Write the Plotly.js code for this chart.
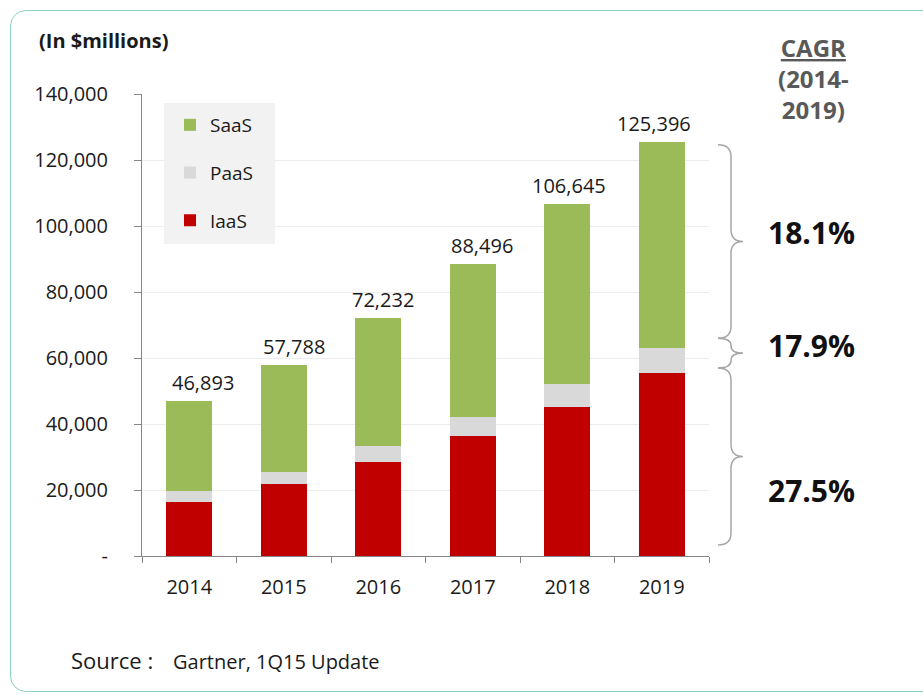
<!DOCTYPE html>
<html><head><meta charset="utf-8">
<script src="https://cdn.plot.ly/plotly-3.0.1.min.js"></script>
<style>
html,body{margin:0;padding:0;background:#fff;}
#wrap{position:relative;width:923px;height:695px;overflow:hidden;}
#chart{position:absolute;left:0;top:0;width:923px;height:695px;}
#frame{position:absolute;left:10px;top:10px;width:940px;height:680px;border:1.5px solid #8ad3c3;border-radius:16px;pointer-events:none;}
</style></head>
<body><div id="wrap"><div id="chart"></div><div id="frame"></div></div>
<script>
// ---- data ----
const years = ['2014','2015','2016','2017','2018','2019'];
const iaas = [16400,21700,28600,36300,45200,55500];
const paas = [3200,3800,4700,5700,6800,7600];
const saas = [27293,32288,38932,46496,54645,62296];
const totals = [46893,57788,72232,88496,106645,125396];
const totalLabels = ['46,893','57,788','72,232','88,496','106,645','125,396'];
const yTickVals = [0,20000,40000,60000,80000,100000,120000,140000];
const yTickText = ['-','20,000','40,000','60,000','80,000','100,000','120,000','140,000'];
const cagrLabels = ['18.1%','17.9%','27.5%'];
const braceRanges = [[124600,66000],[66000,57000],[57000,3300]];

// ---- styles ----
const FONT = 'Open Sans, DejaVu Sans, sans-serif';
const labelShift = [14,10,5,9,2,-8];
const L = 142, R = 214, T = 94, B = 139, W = 923, H = 695;
const PW = W - L - R, PH = H - T - B;
const px2x = p => (p - L) / PW;
const px2y = p => (H - B - p) / PH;
const YMAX = 140000;
const pxPerUnit = PH / YMAX;

const traces = [
  {type:'bar', name:'IaaS', x:years, y:iaas, marker:{color:'#c00000'}, legendgroup:'i', legendrank:3},
  {type:'bar', name:'PaaS', x:years, y:paas, marker:{color:'#d9d9d9'}, legendgroup:'p', legendrank:2},
  {type:'bar', name:'SaaS', x:years, y:saas, marker:{color:'#9bbb59'}, legendgroup:'s', legendrank:1}
];

const annotations = [];
years.forEach((yr,i)=>{
  annotations.push({xref:'x', yref:'y', x:i, y:totals[i], text:totalLabels[i], showarrow:false,
    yanchor:'bottom', yshift:3, xshift:labelShift[i], font:{family:FONT, size:20, color:'#1a1a1a'}});
});
annotations.push({xref:'paper', yref:'paper', x:px2x(37), y:px2y(41), xanchor:'left', yanchor:'middle',
  text:'<b>(In $millions)</b>', showarrow:false, font:{family:FONT, size:20, color:'#1a1a1a'}});
annotations.push({xref:'paper', yref:'paper', x:px2x(813), y:px2y(78), xanchor:'center', yanchor:'middle',
  text:'<b><u>CAGR</u><br>(2014-<br>2019)</b>', showarrow:false, font:{family:FONT, size:24, color:'#595959'}});
const cagrY = [232,345,490];
cagrLabels.forEach((t,i)=>{
  annotations.push({xref:'paper', yref:'paper', x:px2x(811), y:px2y(cagrY[i]), xanchor:'center', yanchor:'middle',
    text:'<b>'+t+'</b>', showarrow:false, font:{family:FONT, size:30, color:'#111111'}});
});
annotations.push({xref:'paper', yref:'paper', x:px2x(69), y:px2y(660), xanchor:'left', yanchor:'middle',
  text:'Source :', showarrow:false, font:{family:FONT, size:22, color:'#1a1a1a'}});
annotations.push({xref:'paper', yref:'paper', x:px2x(171), y:px2y(661), xanchor:'left', yanchor:'middle',
  text:'Gartner, 1Q15 Update', showarrow:false, font:{family:FONT, size:20, color:'#1a1a1a'}});

// braces
const xl = px2x(731), curl = 13/PW, tip = 12/PW;
const shapes = braceRanges.map(([yt,yb])=>{
  const span = yt - yb;
  const r = Math.min(12/pxPerUnit, span/4);
  const ym = (yt+yb)/2;
  const path = `M${xl-curl},${yt} Q${xl},${yt} ${xl},${yt-r} L${xl},${ym+r} Q${xl},${ym} ${xl+tip},${ym} `+
               `Q${xl},${ym} ${xl},${ym-r} L${xl},${yb+r} Q${xl},${yb} ${xl-curl},${yb}`;
  return {type:'path', xref:'paper', yref:'y', path:path, line:{color:'#a6a6a6', width:1.5}};
});
// legend background box
shapes.push({type:'rect', xref:'paper', yref:'paper', x0:px2x(164), x1:px2x(275), y0:px2y(244), y1:px2y(103),
  fillcolor:'#f2f2f2', line:{width:0}, layer:'above'});

const layout = {
  width:W, height:H, margin:{l:L, r:R, t:T, b:B, pad:0},
  paper_bgcolor:'rgba(0,0,0,0)', plot_bgcolor:'#ffffff',
  barmode:'stack', bargap:0.513,
  showlegend:true,
  legend:{x:px2x(170), y:px2y(106), xanchor:'left', yanchor:'top', bgcolor:'rgba(0,0,0,0)', borderwidth:0,
    traceorder:'grouped', tracegroupgap:20, font:{family:FONT, size:19, color:'#1a1a1a'}},
  xaxis:{type:'category', range:[-0.5,5.5], showline:true, linecolor:'#868686', linewidth:1,
    ticks:'outside', tickson:'boundaries', ticklen:6, tickcolor:'#868686',
    tickfont:{family:FONT, size:20, color:'#1a1a1a'}, ticklabelstandoff:13, showgrid:false, fixedrange:true},
  yaxis:{range:[0,YMAX], tickvals:yTickVals, ticktext:yTickText, showgrid:true, gridcolor:'#ececec',
    showline:true, linecolor:'#868686', linewidth:1, ticks:'outside', ticklen:7, tickcolor:'#868686',
    ticklabelstandoff:22, zeroline:false, tickfont:{family:FONT, size:20, color:'#1a1a1a'}, fixedrange:true},
  annotations:annotations, shapes:shapes, hovermode:false
};
Plotly.newPlot('chart', traces, layout, {displayModeBar:false, staticPlot:true});
</script></body></html>
